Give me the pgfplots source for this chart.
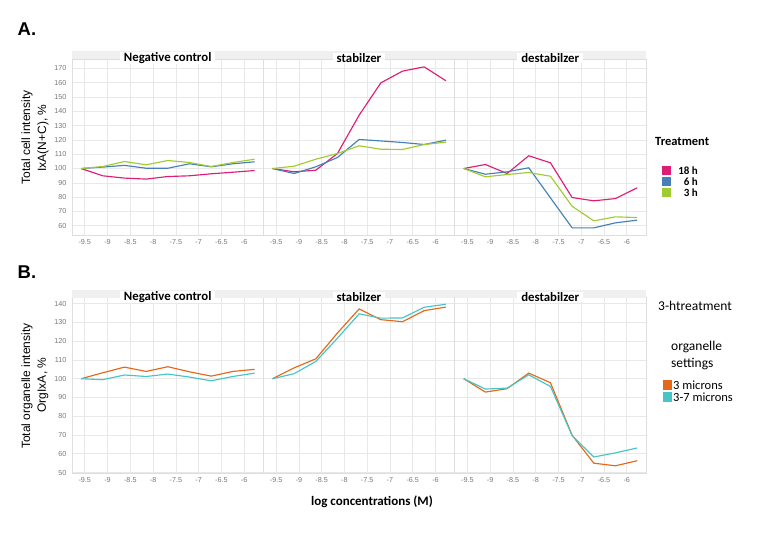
\documentclass[border=0pt]{standalone}
\usepackage{pgfplots}
\pgfplotsset{compat=1.18}
\usepackage{fontspec}
\setmainfont{Carlito}
\newfontfamily\arial{Liberation Sans}
\definecolor{cA}{RGB}{222,30,118}
\definecolor{cB}{RGB}{70,128,182}
\definecolor{cC}{RGB}{160,204,50}
\definecolor{cOr}{RGB}{228,104,24}
\definecolor{cCy}{RGB}{70,196,198}
\definecolor{gridc}{RGB}{232,232,232}
\definecolor{borderc}{RGB}{222,222,222}
\definecolor{stripc}{RGB}{240,240,240}
\definecolor{tickc}{RGB}{120,120,120}
\newcommand\tickfont{\arial\fontsize{7.2}{8}\selectfont}
\newcommand\titlefont{\bfseries\fontsize{12.8}{14}\selectfont}

\pgfplotstableread{
x       h18    h6     h3
-9.58   100    100    100
-9.104  94.9   101.0  101.4
-8.628  93.3   102.2  104.9
-8.152  92.6   100.2  102.6
-7.676  94.4   100.2  105.6
-7.2    94.9   103.3  104.2
-6.724  96.3   101.2  101.4
-6.248  97.4   103.3  104.2
-5.772  98.6   104.7  106.5
}\Aneg
\pgfplotstableread{
x       h18    h6     h3
-9.58   100    100    100
-9.104  97.7   96.5   101.6
-8.628  98.8   101.2  106.5
-8.152  110.5  107.7  110.5
-7.676  137.3  120.3  115.9
-7.2    159.9  119.3  113.5
-6.724  168.1  118.2  113.3
-6.248  171.1  116.8  116.8
-5.772  161.4  119.8  118.4
}\Astab
\pgfplotstableread{
x       h18    h6     h3
-9.58   100    100    100
-9.104  102.8  96.0   94.2
-8.628  96.5   97.7   95.8
-8.152  108.9  100.5  97.2
-7.676  104.0  79.5   94.6
-7.2    79.7   58.5   73.6
-6.724  77.4   58.5   63.4
-6.248  79.0   62.0   66.2
-5.772  86.5   63.9   65.7
}\Ades
\pgfplotstableread{
x       m3     m37
-9.58   100    100
-9.104  103.2  99.5
-8.628  106.2  102.0
-8.152  103.9  101.2
-7.676  106.4  102.5
-7.2    103.7  100.9
-6.724  101.4  98.9
-6.248  103.9  101.2
-5.772  105.0  103.0
}\Bneg
\pgfplotstableread{
x       m3     m37
-9.58   100    100
-9.104  105.8  102.7
-8.628  110.6  109.2
-8.152  124.4  121.6
-7.676  137.2  134.6
-7.2    131.5  132.3
-6.724  130.4  132.4
-6.248  136.3  138.1
-5.772  138.2  139.7
}\Bstab
\pgfplotstableread{
x       m3     m37
-9.58   100    100
-9.104  92.9   94.5
-8.628  94.7   95.0
-8.152  103.0  102.1
-7.676  97.9   95.9
-7.2    69.9   69.7
-6.724  55.0   58.3
-6.248  53.6   60.5
-5.772  56.3   63.1
}\Bdes

\pgfplotsset{
  fpanel/.style={
    scale only axis, width=191.3pt, anchor=north west,
    xmin=-9.78, xmax=-5.58,
    xtick={-9.5,-9,-8.5,-8,-7.5,-7,-6.5,-6},
    grid=major, major grid style={draw=gridc, line width=0.6pt},
    axis line style={draw=borderc, line width=0.6pt},
    tick style={draw=none},
    xticklabel style={font=\tickfont, text=tickc, yshift=-1pt},
    yticklabel style={font=\tickfont, text=tickc, xshift=-2pt},
    /pgf/number format/assume math mode=true,
    clip=false,
    every axis plot/.append style={line width=1.15pt, no markers},
  },
  panelA/.style={fpanel, height=176pt, ymin=53.5, ymax=176.6, ytick={60,70,...,170}},
  panelB/.style={fpanel, height=175.6pt, ymin=49.6, ymax=143.2, ytick={50,60,...,140}},
  noy/.style={yticklabels={}},
}
\newcommand\strip[1]{%
  \fill[stripc] (rel axis cs:0,1) rectangle ([yshift=7.5pt]rel axis cs:1,1);
  \node[fill=white, inner xsep=4pt, inner ysep=0.5pt, font=\titlefont] at ([yshift=1pt]rel axis cs:0.5,1) {#1};
}

\begin{document}
\begin{tikzpicture}
\useasboundingbox (0pt,0pt) rectangle (783pt,-534pt);

% ---------- Panel A ----------
\begin{axis}[panelA, at={(72pt,-59pt)}]
\addplot[cA] table[x=x,y=h18]{\Aneg};
\addplot[cB] table[x=x,y=h6]{\Aneg};
\addplot[cC] table[x=x,y=h3]{\Aneg};
\strip{Negative control}
\end{axis}
\begin{axis}[panelA, noy, at={(263.3pt,-59pt)}]
\addplot[cA] table[x=x,y=h18]{\Astab};
\addplot[cB] table[x=x,y=h6]{\Astab};
\addplot[cC] table[x=x,y=h3]{\Astab};
\strip{stabilzer}
\end{axis}
\begin{axis}[panelA, noy, at={(454.6pt,-59pt)}]
\addplot[cA] table[x=x,y=h18]{\Ades};
\addplot[cB] table[x=x,y=h6]{\Ades};
\addplot[cC] table[x=x,y=h3]{\Ades};
\strip{destabilzer}
\end{axis}

% ---------- Panel B ----------
\begin{axis}[panelB, at={(72pt,-297.7pt)}]
\addplot[cOr] table[x=x,y=m3]{\Bneg};
\addplot[cCy] table[x=x,y=m37]{\Bneg};
\strip{Negative control}
\end{axis}
\begin{axis}[panelB, noy, at={(263.3pt,-297.7pt)}]
\addplot[cOr] table[x=x,y=m3]{\Bstab};
\addplot[cCy] table[x=x,y=m37]{\Bstab};
\strip{stabilzer}
\end{axis}
\begin{axis}[panelB, noy, at={(454.6pt,-297.7pt)}]
\addplot[cOr] table[x=x,y=m3]{\Bdes};
\addplot[cCy] table[x=x,y=m37]{\Bdes};
\strip{destabilzer}
\end{axis}

% ---------- Labels ----------
\node[anchor=base west, font=\arial\bfseries\fontsize{18.5}{20}\selectfont, inner sep=0pt] at (17.5pt,-35.5pt) {A.};
\node[anchor=base west, font=\arial\bfseries\fontsize{18.5}{20}\selectfont, inner sep=0pt] at (17.5pt,-278.5pt) {B.};

\node[rotate=90, font=\arial\fontsize{12}{13}\selectfont, inner sep=0pt] at (27pt,-137.5pt) {Total cell intensity};
\node[rotate=90, font=\arial\fontsize{12}{13}\selectfont, inner sep=0pt] at (43pt,-138pt) {IxA(N+C), \%};
\node[rotate=90, font=\arial\fontsize{12}{13}\selectfont, inner sep=0pt] at (27pt,-386pt) {Total organelle intensity};
\node[rotate=90, font=\arial\fontsize{12}{13}\selectfont, inner sep=0pt] at (43pt,-385pt) {OrgIxA, \%};

\node[font=\bfseries\fontsize{13}{14}\selectfont, inner sep=0pt] at (372pt,-502pt) {log concentrations (M)};

% ---------- Legend A ----------
\node[anchor=west, font=\bfseries\fontsize{12.5}{14}\selectfont, inner sep=0pt] at (655pt,-141pt) {Treatment};
\fill[cA] (662pt,-166pt) rectangle (671pt,-175pt);
\fill[cB] (662pt,-177pt) rectangle (671pt,-186pt);
\fill[cC] (662pt,-188pt) rectangle (671pt,-197pt);
\node[anchor=east, font=\bfseries\fontsize{11}{12}\selectfont, inner sep=0pt] at (698pt,-170.5pt) {18 h};
\node[anchor=east, font=\bfseries\fontsize{11}{12}\selectfont, inner sep=0pt] at (698pt,-181.5pt) {6 h};
\node[anchor=east, font=\bfseries\fontsize{11}{12}\selectfont, inner sep=0pt] at (698pt,-192.5pt) {3 h};

% ---------- Legend B ----------
\node[anchor=west, font=\fontsize{13.5}{15}\selectfont, inner sep=0pt] at (658pt,-306pt) {3-htreatment};
\node[anchor=west, font=\fontsize{13.5}{15}\selectfont, inner sep=0pt] at (671pt,-347pt) {organelle};
\node[anchor=west, font=\fontsize{13.5}{15}\selectfont, inner sep=0pt] at (671pt,-364pt) {settings};
\fill[cOr] (663pt,-380pt) rectangle (672pt,-390pt);
\fill[cCy] (663pt,-392pt) rectangle (672pt,-402pt);
\node[anchor=west, font=\fontsize{12.5}{14}\selectfont, inner sep=0pt] at (673pt,-385pt) {3 microns};
\node[anchor=west, font=\fontsize{12.5}{14}\selectfont, inner sep=0pt] at (673pt,-397.5pt) {3-7 microns};
\end{tikzpicture}
\end{document}
